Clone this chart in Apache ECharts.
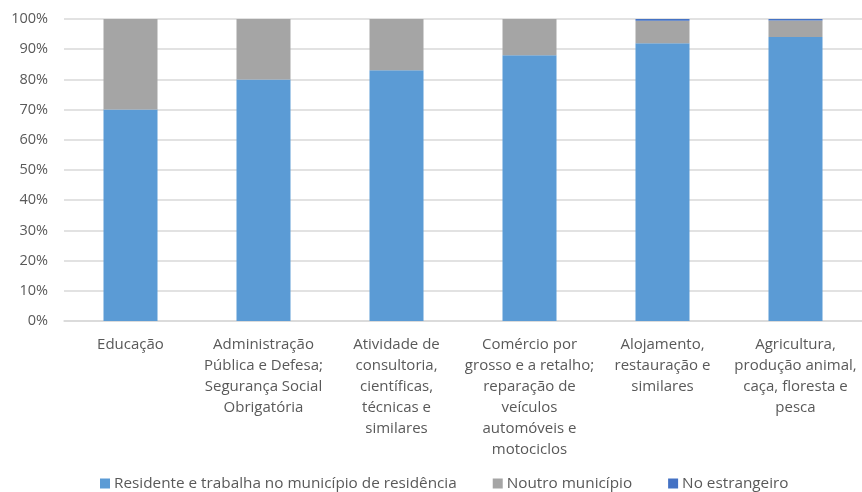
<!DOCTYPE html>
<html>
<head>
<meta charset="utf-8">
<script src="https://cdn.jsdelivr.net/npm/echarts@6/dist/echarts.min.js"></script>
<style>html,body{margin:0;padding:0;background:#fff}#c{width:862px;height:492px}</style>
</head>
<body>
<div id="c"></div>
<script>
const categories = [
  "Educação",
  "Administração\nPública e Defesa;\nSegurança Social\nObrigatória",
  "Atividade de\nconsultoria,\ncientíficas,\ntécnicas e\nsimilares",
  "Comércio por\ngrosso e a retalho;\nreparação de\nveículos\nautomóveis e\nmotociclos",
  "Alojamento,\nrestauração e\nsimilares",
  "Agricultura,\nprodução animal,\ncaça, floresta e\npesca"
];
const residente = [70, 80, 83, 88, 92, 94];
const noutro = [30, 20, 17, 12, 7.4, 5.5];
const estrangeiro = [0, 0, 0, 0, 0.6, 0.5];
const seriesNames = ["Residente e trabalha no município de residência", "Noutro município", "No estrangeiro"];
const yTicks = [0, 10, 20, 30, 40, 50, 60, 70, 80, 90, 100];

const font = "Open Sans";
const chart = echarts.init(document.getElementById('c'));
chart.setOption({
  animation: false,
  textStyle: { fontFamily: font },
  grid: { left: 64, width: 802, top: 19, height: 302 },
  legend: {
    top: 471,
    left: 95,
    itemWidth: 10, itemHeight: 10, itemGap: 36,
    icon: 'rect',
    textStyle: { fontFamily: font, fontSize: 15.3, color: '#595959', padding: [0, 0, 0, -1] },
    data: seriesNames
  },
  xAxis: {
    type: 'category',
    data: categories,
    axisLine: { lineStyle: { color: '#D9D9D9', width: 1.5 } },
    axisTick: { show: false },
    axisLabel: { interval: 0, color: '#595959', fontSize: 15, lineHeight: 21, margin: 13, fontFamily: font }
  },
  yAxis: {
    type: 'value',
    min: 0, max: 100, interval: 10,
    axisLine: { show: false },
    axisTick: { show: false },
    splitLine: { lineStyle: { color: '#D9D9D9', width: 1.5 } },
    axisLabel: { color: '#595959', fontSize: 14.5, margin: 16, fontFamily: font, formatter: v => yTicks.includes(v) ? v + '%' : '' }
  },
  series: [
    { name: seriesNames[0], type: 'bar', stack: 's', data: residente, barWidth: 54, itemStyle: { color: '#5B9BD5' } },
    { name: seriesNames[1], type: 'bar', stack: 's', data: noutro, barWidth: 54, itemStyle: { color: '#A5A5A5' } },
    { name: seriesNames[2], type: 'bar', stack: 's', data: estrangeiro, barWidth: 54, itemStyle: { color: '#4472C4' } }
  ]
});
</script>
</body>
</html>
